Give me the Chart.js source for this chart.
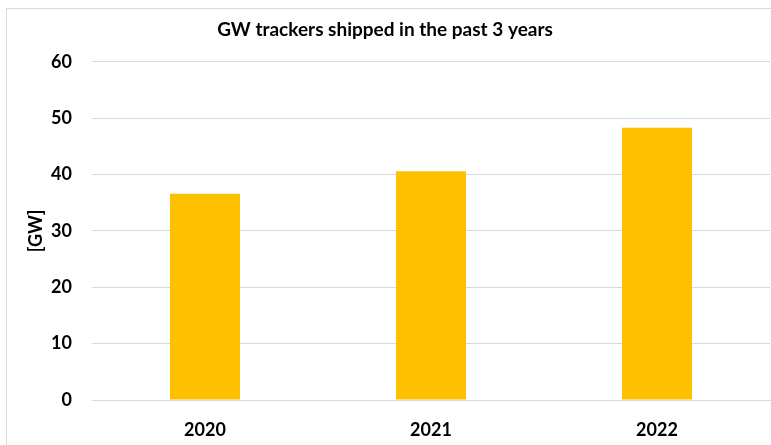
<!DOCTYPE html>
<html>
<head>
<meta charset="utf-8">
<script src="https://cdn.jsdelivr.net/npm/chart.js@4"></script>
<style>
  html, body { margin: 0; padding: 0; background: #ffffff; }
  #wrap { position: relative; width: 771px; height: 445px; }
  #frame {
    position: absolute; left: 6px; top: 8px; right: -2px; bottom: -2px;
    border-left: 1px solid #d9d9d9; border-top: 1px solid #d9d9d9;
  }
  canvas { position: absolute; left: 0; top: 0; }
</style>
</head>
<body>
<div id="wrap">
  <div id="frame"></div>
  <canvas id="gwChart" width="771" height="445"></canvas>
</div>
<script>
const years = ["2020", "2021", "2022"];
const gwShipped = [36.6, 40.6, 48.3];
const yTicks = [0, 10, 20, 30, 40, 50, 60];

const barColor = "#FFC000";
const gridColor = "#d9d9d9";
const fontFamily = "Lato, 'Open Sans', sans-serif";

const ctx = document.getElementById("gwChart").getContext("2d");
new Chart(ctx, {
  type: "bar",
  data: {
    labels: years,
    datasets: [
      {
        label: "GW",
        data: gwShipped,
        backgroundColor: barColor,
        categoryPercentage: 1,
        barPercentage: 0.31
      }
    ]
  },
  options: {
    responsive: false,
    animation: false,
    layout: { padding: { left: 0, right: 1, top: 0, bottom: 0 } },
    plugins: {
      legend: { display: false },
      tooltip: { enabled: false },
      title: {
        display: true,
        text: "GW trackers shipped in the past 3 years",
        color: "#000000",
        font: { family: fontFamily, size: 19, weight: "bold" },
        padding: { top: 18, bottom: 21 }
      }
    },
    scales: {
      x: {
        grid: { display: false, drawTicks: false },
        border: { color: gridColor, width: 1 },
        ticks: {
          color: "#000000",
          padding: 19,
          font: { family: fontFamily, size: 18, weight: "bold" }
        },
        afterFit: (scale) => { scale.height = 45; }
      },
      y: {
        min: 0,
        max: 60,
        afterBuildTicks: (scale) => {
          scale.ticks = yTicks.map((v) => ({ value: v }));
        },
        grid: { color: gridColor, drawTicks: false },
        border: { display: false },
        ticks: {
          color: "#000000",
          padding: 20,
          font: { family: fontFamily, size: 18, weight: "bold" }
        },
        title: {
          display: true,
          text: "[GW]",
          color: "#000000",
          font: { family: fontFamily, size: 18, weight: "bold" },
          padding: { top: 25, bottom: 0 }
        },
        afterFit: (scale) => { scale.width = 92; }
      }
    }
  }
});
</script>
</body>
</html>
